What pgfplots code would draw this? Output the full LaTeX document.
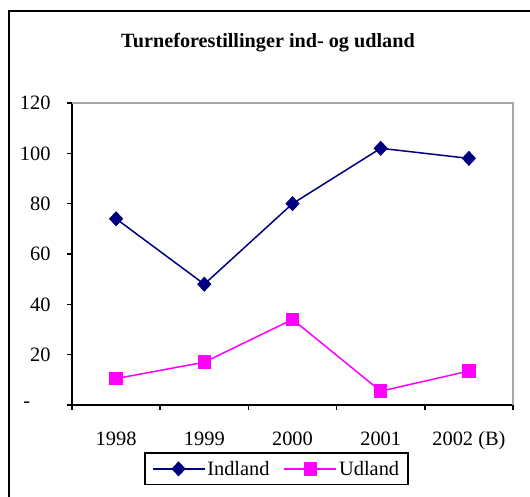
\documentclass[border=0pt]{standalone}
\usepackage{fontspec}
\setmainfont{Liberation Serif}
\usepackage{pgfplots}
\pgfplotsset{compat=1.18}
\definecolor{navyc}{RGB}{0,0,128}
\definecolor{magc}{RGB}{255,0,255}
\begin{document}
\begin{tikzpicture}[font=\fontsize{20.4}{23}\selectfont]
\fill[white] (0,0) rectangle (530pt,496pt);
\draw[line width=2pt] (9pt,-20pt) rectangle (560pt,485pt);
\node[font=\fontsize{20.2}{23}\selectfont\bfseries] at (268pt,453pt) {Turneforestillinger ind- og udland};
\begin{axis}[
 at={(72pt,91pt)}, anchor=south west,
 scale only axis, width=441pt, height=302pt,
 xmin=0.5, xmax=5.5, ymin=0, ymax=120,
 clip=false,
 axis x line*=bottom, axis y line*=left,
 axis line style={line width=1.5pt,-},
 xtick={1,2,3,4,5},
 xticklabels={1998,1999,2000,2001,2002 (B)},
 minor xtick={0.5,1.5,2.5,3.5,4.5,5.5},
 ytick={0,20,40,60,80,100,120},
 yticklabels={{-\hphantom{00}\hspace{3pt}},20,40,60,80,100,120},
 tick align=outside,
 major tick length=5pt, minor tick length=5pt,
 major x tick style={draw=none},
 minor x tick style={black,line width=1.5pt},
 y tick style={black,line width=1.5pt},
 tick label style={font=\fontsize{20.4}{23}\selectfont},
 xticklabel style={yshift=-18pt},
 yticklabel style={xshift=-13pt},
 legend columns=2,
 legend style={at={(axis description cs:0.4637,-0.2115)}, anchor=center,
   draw=black, line width=1.5pt, font=\fontsize{20.4}{23}\selectfont,
   inner xsep=7pt, inner ysep=6pt, outer sep=0pt,
   /tikz/every even column/.append style={column sep=12pt}},
 legend image code/.code={\draw[mark repeat=2,mark phase=2] plot coordinates {(0pt,0pt) (26pt,0pt) (52pt,0pt)};},
]
\draw[gray!70, line width=1.5pt] (rel axis cs:0,1) -- (rel axis cs:1,1) -- (rel axis cs:1,0);
\addplot[navyc, line width=1.5pt, mark=diamond*, mark size=6.5pt, mark options={xscale=1.25, solid, fill=navyc}]
 coordinates {(1,74) (2,48) (3,80) (4,102) (5,98)};
\addlegendentry{Indland}
\addplot[magc, line width=1.5pt, mark=square*, mark size=6pt, mark options={solid, fill=magc}]
 coordinates {(1,10.5) (2,17) (3,34) (4,5.5) (5,13.5)};
\addlegendentry{Udland}
\end{axis}
\pgfresetboundingbox
\path[use as bounding box] (0,0) rectangle (530pt,496pt);
\end{tikzpicture}
\end{document}
